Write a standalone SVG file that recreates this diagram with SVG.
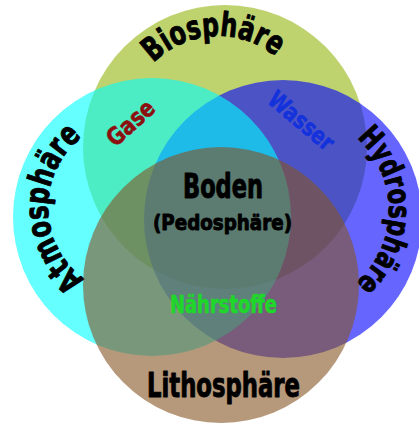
<svg xmlns="http://www.w3.org/2000/svg" width="419" height="425" viewBox="0 0 419 425">
<style>
.c{fill-opacity:0.6}
.t{font-family:"Liberation Sans Narrow","DejaVu Sans Condensed","Liberation Sans",sans-serif;font-weight:bold;text-anchor:middle;stroke-linejoin:round}
.k{fill:#000;stroke:#000;stroke-width:0.9}
</style>
<defs>
<path id="pBio" d="M127,127 A91,91 0 0 1 309,127"/>
<path id="pAtm" d="M137,296 A89,89 0 0 1 137,118"/>
<path id="pHyd" d="M292,113 A97,97 0 0 1 292,307"/>
</defs>
<rect width="419" height="425" fill="#fff"/>
<g id="biosphaere">
<circle cx="225" cy="147" r="142" fill="#93b40d" class="c"/>
<text class="t k" font-size="33"><textPath href="#pBio" startOffset="48.3%" textLength="134" lengthAdjust="spacingAndGlyphs">Biosphäre</textPath></text>
</g>
<g id="hydrosphaere">
<circle cx="283" cy="219" r="139" fill="#0000ff" class="c"/>
<text class="t k" font-size="31"><textPath href="#pHyd" startOffset="50.2%" textLength="164" lengthAdjust="spacingAndGlyphs">Hydrosphäre</textPath></text>
</g>
<g id="atmosphaere">
<circle cx="152" cy="217" r="139" fill="#00ffff" class="c"/>
<text class="t k" font-size="33"><textPath href="#pAtm" startOffset="49.4%" textLength="164" lengthAdjust="spacingAndGlyphs">Atmosphäre</textPath></text>
</g>
<g id="lithosphaere">
<circle cx="221" cy="285" r="138" fill="#855423" class="c"/>
<text class="t k" x="223.5" y="397" font-size="33" textLength="153" lengthAdjust="spacingAndGlyphs">Lithosphäre</text>
</g>
<g id="boden">
<text class="t k" x="223" y="198" font-size="33" textLength="80" lengthAdjust="spacingAndGlyphs">Boden</text>
<text class="t k" x="222.5" y="230" font-size="22" textLength="139" lengthAdjust="spacingAndGlyphs" stroke-width="0.6">(Pedosphäre)</text>
</g>
<g id="flows">
<text class="t" x="0" y="0" font-size="24" fill="#8c1010" stroke="#8c1010" stroke-width="0.6" textLength="56" lengthAdjust="spacingAndGlyphs" transform="translate(136,129) rotate(-42)">Gase</text>
<text class="t" x="0" y="0" font-size="24" fill="#1432dc" stroke="#1432dc" stroke-width="0.6" textLength="78" lengthAdjust="spacingAndGlyphs" transform="translate(296,127) rotate(40)">Wasser</text>
<text class="t" x="223.5" y="313" font-size="24" fill="#1fd62a" stroke="#1fd62a" stroke-width="0.6" textLength="107" lengthAdjust="spacingAndGlyphs">Nährstoffe</text>
</g>
<g id="connectors"/>
</svg>
